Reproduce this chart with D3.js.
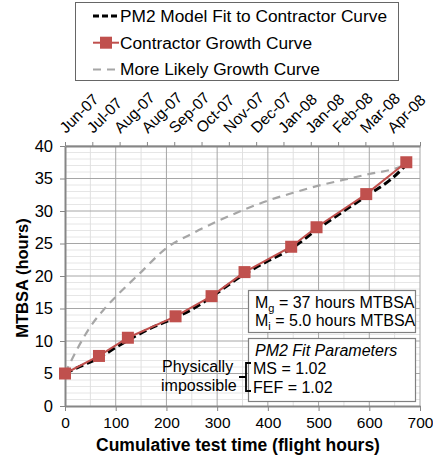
<!DOCTYPE html>
<html>
<head>
<meta charset="utf-8">
<script src="https://cdn.jsdelivr.net/npm/d3@7"></script>
<style>
  body { margin: 0; background: #fff; }
  text { font-family: "Liberation Sans", Arial, sans-serif; }
</style>
</head>
<body>
<div id="chart"></div>
<script>
// contractor growth curve points (flight hours, MTBSA)
const contractorHours = [0, 67, 124, 218, 289, 354, 446, 496, 594, 673];
const contractorMtbsa = [5.0, 7.7, 10.5, 13.8, 16.9, 20.6, 24.5, 27.5, 32.6, 37.5];

// PM2 model fit
const fitHours = [0, 30, 67, 100, 124, 170, 218, 260, 289, 354, 400, 446, 496, 550, 594, 640, 673];
const fitMtbsa = [5.0, 6.1, 7.4, 9.0, 10.1, 12.0, 13.6, 15.3, 16.8, 20.3, 22.3, 24.2, 27.1, 30.0, 32.3, 34.7, 37.1];

// more likely growth curve (grey dashed)
const likelyHours = [0, 25, 50, 75, 100, 150, 200, 250, 300, 350, 400, 450, 500, 550, 600, 650, 668];
const likelyMtbsa = [5.0, 8.9, 12.2, 14.7, 16.8, 20.6, 24.3, 26.5, 28.4, 30.1, 31.6, 32.8, 33.9, 34.8, 35.7, 36.5, 37.0];

const monthLabels = ['Jun-07', 'Jul-07', 'Aug-07', 'Aug-07', 'Sep-07', 'Oct-07', 'Nov-07',
                     'Dec-07', 'Jan-08', 'Jan-08', 'Feb-08', 'Mar-08', 'Apr-08'];
const xTicks = [0, 100, 200, 300, 400, 500, 600, 700];
const yTicks = [0, 5, 10, 15, 20, 25, 30, 35, 40];

const width = 433, height = 466;
const plotLeft = 65, plotRight = 420, plotTop = 146, plotBottom = 406;
const red = '#c0504d';

const svg = d3.select('#chart').append('svg')
    .attr('width', width)
    .attr('height', height);

const x = d3.scaleLinear().domain([0, 700]).range([plotLeft, plotRight]);
const y = d3.scaleLinear().domain([0, 40]).range([plotBottom, plotTop]);
const xMonth = d3.scaleLinear().domain([0, monthLabels.length]).range([plotLeft, plotRight]);

// grid
const grid = svg.append('g');
grid.selectAll('.hminor')
    .data(d3.range(1, 40).filter(d => d % 5 !== 0))
    .enter().append('line')
    .attr('x1', plotLeft).attr('x2', plotRight)
    .attr('y1', d => y(d)).attr('y2', d => y(d))
    .attr('stroke', '#e6e6e6').attr('stroke-width', 1);
grid.selectAll('.vminor')
    .data(d3.range(50, 700, 100))
    .enter().append('line')
    .attr('x1', d => x(d)).attr('x2', d => x(d))
    .attr('y1', plotTop).attr('y2', plotBottom)
    .attr('stroke', '#e0e0e0').attr('stroke-width', 1);
grid.selectAll('.hmajor')
    .data(yTicks.slice(1))
    .enter().append('line')
    .attr('x1', plotLeft).attr('x2', plotRight)
    .attr('y1', d => y(d)).attr('y2', d => y(d))
    .attr('stroke', '#a6a6a6').attr('stroke-width', 1);
grid.selectAll('.vmajor')
    .data(xTicks.slice(1))
    .enter().append('line')
    .attr('x1', d => x(d)).attr('x2', d => x(d))
    .attr('y1', plotTop).attr('y2', plotBottom)
    .attr('stroke', '#a6a6a6').attr('stroke-width', 1);

// axes
const xAxis = svg.append('g')
    .attr('transform', `translate(0,${plotBottom})`)
    .call(d3.axisBottom(x).tickValues(xTicks).tickSize(5).tickSizeOuter(0).tickPadding(6));
const yAxis = svg.append('g')
    .attr('transform', `translate(${plotLeft},0)`)
    .call(d3.axisLeft(y).tickValues(yTicks).tickSize(5).tickSizeOuter(0).tickPadding(7));
const topAxis = svg.append('g')
    .attr('transform', `translate(0,${plotTop})`)
    .call(d3.axisTop(xMonth).tickValues(d3.range(0, monthLabels.length + 1))
        .tickSize(4).tickSizeOuter(0).tickFormat(''));

[xAxis, yAxis, topAxis].forEach(a => {
    a.select('.domain').attr('stroke', '#868686').attr('stroke-width', 2);
    a.selectAll('.tick line').attr('stroke', '#868686');
    a.selectAll('.tick text').attr('font-size', 15.5).attr('fill', '#000')
        .style('font-family', '"Liberation Sans", Arial, sans-serif');
});
yAxis.selectAll('.tick text').attr('font-size', 16.5);

svg.append('g').selectAll('text')
    .data(monthLabels)
    .enter().append('text')
    .attr('transform', (d, i) => `translate(${xMonth(i) + 1},${plotTop - 12}) rotate(-45)`)
    .attr('font-size', 15.5)
    .text(d => d);

// series
const smooth = d3.line().x(d => x(d[0])).y(d => y(d[1])).curve(d3.curveMonotoneX);
const straight = d3.line().x(d => x(d[0])).y(d => y(d[1]));

svg.append('path')
    .datum(d3.zip(likelyHours, likelyMtbsa))
    .attr('d', smooth)
    .attr('fill', 'none').attr('stroke', '#a6a6a6')
    .attr('stroke-width', 2.2).attr('stroke-dasharray', '8,6');

svg.append('path')
    .datum(d3.zip(fitHours, fitMtbsa))
    .attr('d', smooth)
    .attr('fill', 'none').attr('stroke', '#000')
    .attr('stroke-width', 3).attr('stroke-dasharray', '8,4');

const contractor = d3.zip(contractorHours, contractorMtbsa);
svg.append('path')
    .datum(contractor)
    .attr('d', straight)
    .attr('fill', 'none').attr('stroke', red).attr('stroke-width', 2);

svg.append('g').selectAll('rect')
    .data(contractor)
    .enter().append('rect')
    .attr('x', d => x(d[0]) - 6).attr('y', d => y(d[1]) - 6)
    .attr('width', 12).attr('height', 12)
    .attr('fill', red);

// axis titles
svg.append('text')
    .attr('x', 238).attr('y', 451)
    .attr('text-anchor', 'middle')
    .attr('font-size', 17.5).attr('font-weight', 'bold')
    .text('Cumulative test time (flight hours)');
svg.append('text')
    .attr('transform', `translate(28,${(plotTop + plotBottom) / 2 + 2}) rotate(-90)`)
    .attr('text-anchor', 'middle')
    .attr('font-size', 16.5).attr('font-weight', 'bold')
    .text('MTBSA (hours)');

// legend
const legend = svg.append('g');
legend.append('rect')
    .attr('x', 75.5).attr('y', 2.5).attr('width', 323).attr('height', 78)
    .attr('fill', '#fff').attr('stroke', '#666');
const rows = [
    { label: 'PM2 Model Fit to Contractor Curve', stroke: '#000', w: 3, dash: '6,3' },
    { label: 'Contractor Growth Curve', stroke: red, w: 2, dash: null, marker: true },
    { label: 'More Likely Growth Curve', stroke: '#a6a6a6', w: 2, dash: '8,6' }
];
rows.forEach((r, i) => {
    const cy = 16 + i * 26.7;
    legend.append('line')
        .attr('x1', 93).attr('x2', 119).attr('y1', cy).attr('y2', cy)
        .attr('stroke', r.stroke).attr('stroke-width', r.w)
        .attr('stroke-dasharray', r.dash);
    if (r.marker) {
        legend.append('rect')
            .attr('x', 100).attr('y', cy - 6).attr('width', 12).attr('height', 12)
            .attr('fill', red);
    }
    legend.append('text')
        .attr('x', 120).attr('y', cy + 6)
        .attr('font-size', 17.3)
        .text(r.label);
});

// annotation boxes
const box1 = svg.append('g');
box1.append('rect')
    .attr('x', 248.5).attr('y', 290.5).attr('width', 167).attr('height', 42)
    .attr('fill', '#fff').attr('stroke', '#808080').attr('stroke-width', 1.2);
[['g', '37 hours MTBSA'], ['i', '5.0 hours MTBSA']].forEach((p, i) => {
    const t = box1.append('text')
        .attr('x', 255).attr('y', 308 + i * 18)
        .attr('font-size', 16);
    t.append('tspan').text('M');
    t.append('tspan').attr('font-size', 11).attr('dy', 4).text(p[0]);
    t.append('tspan').attr('dy', -4).text(' = ' + p[1]);
});

const box2 = svg.append('g');
box2.append('rect')
    .attr('x', 248.5).attr('y', 338.5).attr('width', 167).attr('height', 63)
    .attr('fill', '#fff').attr('stroke', '#808080').attr('stroke-width', 1.2);
box2.append('text')
    .attr('x', 255).attr('y', 356)
    .attr('font-size', 16).attr('font-style', 'italic')
    .text('PM2 Fit Parameters');
box2.append('text').attr('x', 253).attr('y', 374).attr('font-size', 16).text('MS = 1.02');
box2.append('text').attr('x', 253).attr('y', 393).attr('font-size', 16).text('FEF = 1.02');

// physically impossible note with brace
svg.append('path')
    .attr('d', 'M251,363 L246,363 L246,377 L239,377 M246,377 L246,391 L251,391')
    .attr('fill', 'none').attr('stroke', '#000').attr('stroke-width', 1.8);
svg.append('text').attr('x', 162).attr('y', 372).attr('font-size', 16).text('Physically');
svg.append('text').attr('x', 161).attr('y', 391).attr('font-size', 16).text('impossible');
</script>
</body>
</html>
